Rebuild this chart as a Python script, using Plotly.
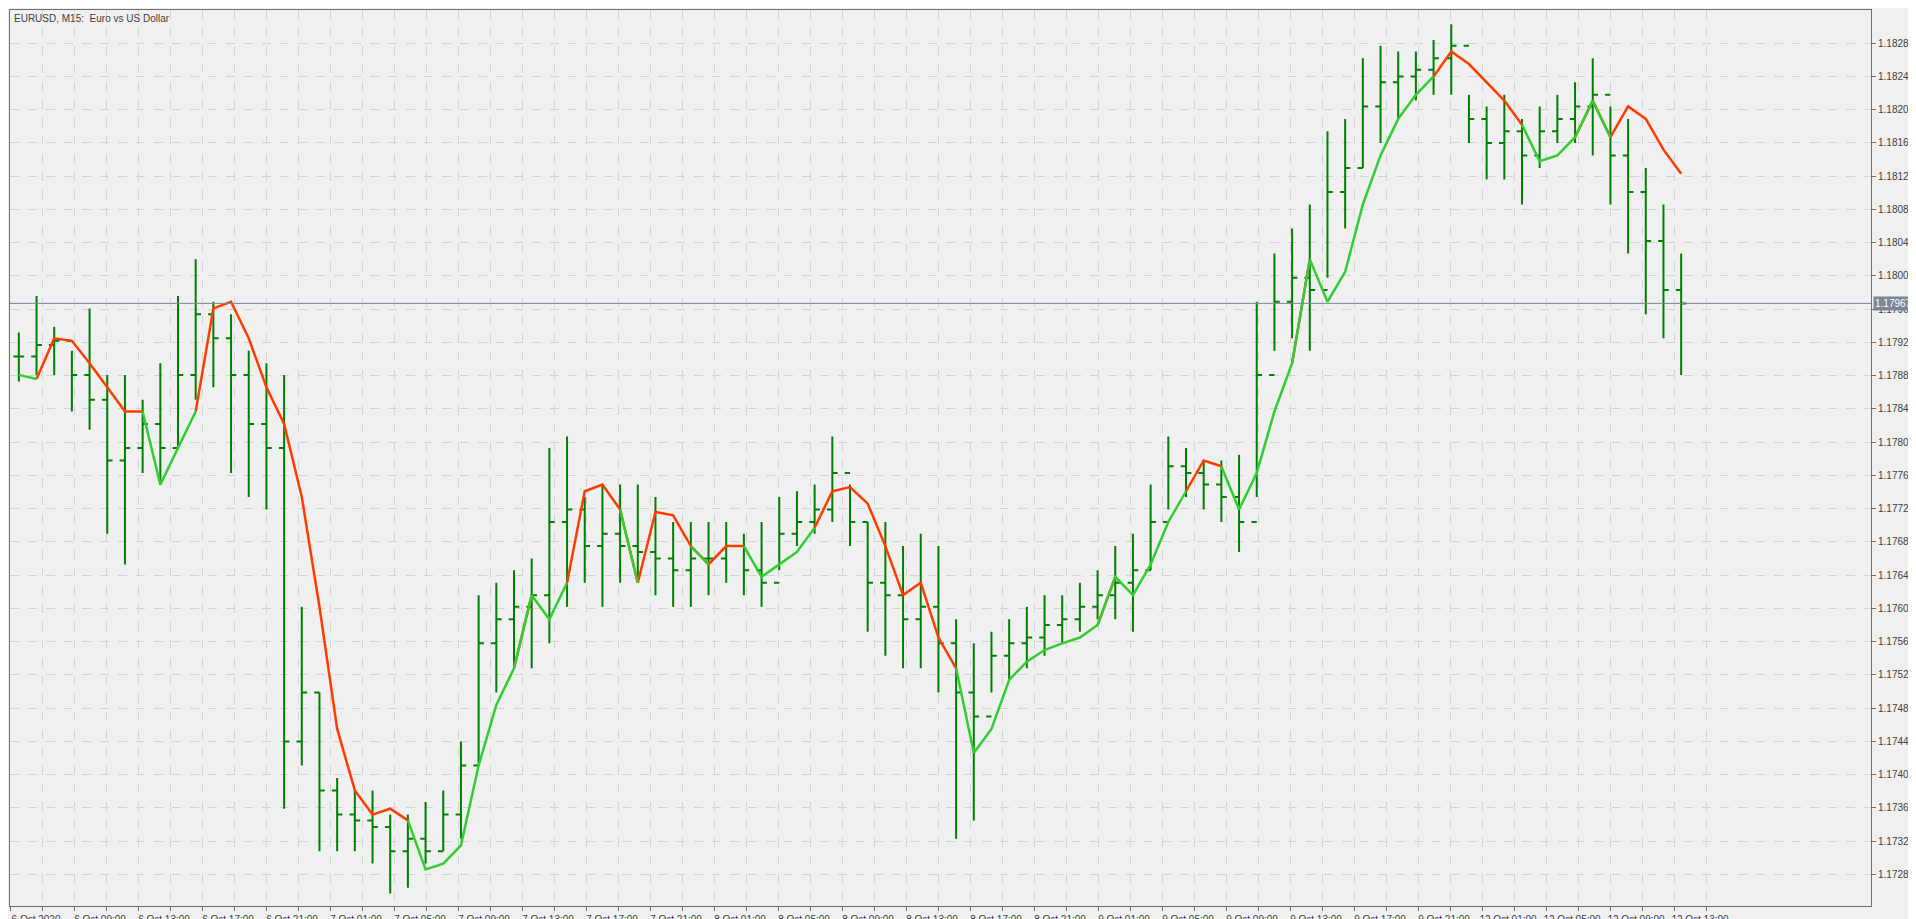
import plotly.graph_objects as go

# EURUSD M15, hourly sampled, prices in points (1e-5)
high_pts = [117932, 117976, 117939, 117910, 117961, 117881, 117881, 117851, 117895, 117976,
            118020, 117969, 117954, 117910, 117895, 117881, 117602, 117499, 117396, 117381,
            117381, 117352, 117352, 117367, 117381, 117440, 117616, 117631, 117646, 117660,
            117793, 117807, 117734, 117749, 117749, 117749, 117734, 117704, 117704, 117704,
            117704, 117690, 117704, 117734, 117741, 117749, 117807, 117749, 117704, 117704,
            117675, 117690, 117675, 117587, 117558, 117572, 117587, 117602, 117616, 117616,
            117631, 117646, 117675, 117690, 117749, 117807, 117793, 117778, 117778, 117785,
            117969, 118027, 118057, 118086, 118174, 118189, 118262, 118277, 118270, 118270,
            118284, 118303, 118218, 118204, 118218, 118189, 118204, 118218, 118233, 118262,
            118204, 118189, 118130, 118086, 118027]
low_pts = [117873, 117881, 117881, 117837, 117815, 117690, 117653, 117763, 117749, 117793,
           117851, 117866, 117763, 117734, 117719, 117359, 117411, 117308, 117308, 117308,
           117293, 117257, 117264, 117293, 117308, 117323, 117411, 117499, 117528, 117528,
           117558, 117602, 117631, 117602, 117631, 117631, 117616, 117602, 117602, 117616,
           117631, 117616, 117602, 117646, 117675, 117690, 117704, 117675, 117572, 117543,
           117528, 117528, 117499, 117323, 117345, 117499, 117514, 117528, 117543, 117558,
           117572, 117587, 117587, 117572, 117646, 117719, 117734, 117719, 117704, 117668,
           117734, 117910, 117925, 117910, 117998, 118057, 118130, 118160, 118189, 118211,
           118218, 118218, 118160, 118116, 118116, 118086, 118130, 118160, 118160, 118145,
           118086, 118027, 117954, 117925, 117881]
close_pts = [117903, 117917, 117922, 117881, 117851, 117778, 117793, 117822, 117793, 117881,
             117954, 117925, 117881, 117822, 117793, 117440, 117499, 117381, 117352, 117345,
             117337, 117308, 117323, 117308, 117352, 117411, 117558, 117587, 117602, 117616,
             117704, 117719, 117675, 117690, 117675, 117668, 117660, 117646, 117660, 117660,
             117675, 117646, 117631, 117690, 117704, 117719, 117763, 117704, 117631, 117616,
             117587, 117602, 117558, 117499, 117470, 117543, 117558, 117565, 117580, 117587,
             117602, 117616, 117631, 117646, 117704, 117771, 117763, 117749, 117734, 117704,
             117881, 117969, 117998, 117983, 118101, 118130, 118204, 118233, 118240, 118248,
             118262, 118277, 118189, 118160, 118174, 118145, 118174, 118189, 118204, 118218,
             118145, 118101, 118042, 117983, 117967]
trail_pts = [117881, 117876, 117925, 117922, 117895, 117866, 117837, 117837, 117749, 117793,
             117837, 117961, 117969, 117925, 117866, 117822, 117734, 117602, 117455, 117381,
             117352, 117359, 117345, 117286, 117293, 117315, 117411, 117484, 117528, 117616,
             117587, 117631, 117741, 117749, 117719, 117631, 117716, 117712, 117675, 117653,
             117675, 117675, 117638, 117653, 117668, 117697, 117741, 117746, 117726, 117675,
             117616, 117631, 117565, 117528, 117426, 117455, 117514, 117536, 117550, 117558,
             117565, 117580, 117638, 117616, 117653, 117704, 117741, 117778, 117771, 117719,
             117763, 117837, 117895, 118020, 117969, 118005, 118086, 118145, 118189, 118218,
             118240, 118270, 118255, 118233, 118211, 118182, 118138, 118145, 118167, 118211,
             118167, 118204, 118189, 118152, 118123]
trail_side = "GGRRRRRRGGGRRRRRRRRRRRRGGGGGGRGGRRRGRRRGRRGGGGRRRRRRRRGGGGGGGGRGGGGRRGGGGRGGGGGGGRRRRRGGGRGRRRR"

tick_labels = ["6 Oct 2020", "6 Oct 09:00", "6 Oct 13:00", "6 Oct 17:00", "6 Oct 21:00",
               "7 Oct 01:00", "7 Oct 05:00", "7 Oct 09:00", "7 Oct 13:00", "7 Oct 17:00",
               "7 Oct 21:00", "8 Oct 01:00", "8 Oct 05:00", "8 Oct 09:00", "8 Oct 13:00",
               "8 Oct 17:00", "8 Oct 21:00", "9 Oct 01:00", "9 Oct 05:00", "9 Oct 09:00",
               "9 Oct 13:00", "9 Oct 17:00", "9 Oct 21:00", "12 Oct 01:00", "12 Oct 05:00",
               "12 Oct 09:00", "12 Oct 13:00"]
last_price = 1.17967

n = len(close_pts)
x = list(range(n))
high = [v / 1e5 for v in high_pts]
low = [v / 1e5 for v in low_pts]
close = [v / 1e5 for v in close_pts]
opn = [close[0]] + close[:-1]
trail = [v / 1e5 for v in trail_pts]

red, green = [None] * n, [None] * n
for i in range(n):
    s = trail_side[i]
    nxt = trail_side[i + 1] if i + 1 < n else s
    if s == "R" or nxt == "R":
        red[i] = trail[i]
    if s == "G" or nxt == "G":
        green[i] = trail[i]

fig = go.Figure()
fig.add_trace(go.Ohlc(x=x, open=opn, high=high, low=low, close=close, tickwidth=0.3,
                      increasing=dict(line=dict(color="#008000", width=2)),
                      decreasing=dict(line=dict(color="#008000", width=2)),
                      showlegend=False, hoverinfo="skip"))
fig.add_trace(go.Scatter(x=x, y=red, mode="lines", line=dict(color="#ff3c00", width=2.5),
                         showlegend=False, connectgaps=False))
fig.add_trace(go.Scatter(x=x, y=green, mode="lines", line=dict(color="#32cd32", width=2.5),
                         showlegend=False, connectgaps=False))

# x scale: bar spacing in px, one label every 64 px
plot_w = 1916 - 2 - 53
bar_px = 1680 / n
step = 64 / bar_px
x0 = -0.5
tickvals, ticktext = [], []
for k, lab in enumerate(tick_labels):
    tickvals += [x0 + k * step, x0 + (k + 0.5) * step]
    ticktext += [lab, ""]

fig.add_hline(y=last_price, line=dict(color="#7a8797", width=1))
fig.add_annotation(x=1, xref="paper", xanchor="left", y=last_price, yref="y",
                   text="1.17967", showarrow=False, bgcolor="#7a8797",
                   font=dict(color="white", size=10, family="Liberation Sans"), borderpad=1, xshift=2)
fig.add_annotation(x=0, xref="paper", y=1, yref="paper", xanchor="left", yanchor="top",
                   text="EURUSD, M15:  Euro vs US Dollar", showarrow=False, xshift=2, yshift=-1,
                   font=dict(color="#404040", size=10, family="Liberation Sans"))

yticks = [1.17280 + 0.0004 * k for k in range(26)]
fig.update_layout(
    width=1916, height=919,
    margin=dict(l=2, r=53, t=2, b=21),
    paper_bgcolor="#f0f0f0", plot_bgcolor="#f0f0f0",
    font=dict(family="Liberation Sans", size=10, color="#404040"),
    xaxis=dict(range=[x0, x0 + plot_w / bar_px], tickvals=tickvals, ticktext=ticktext,
               tickangle=0, ticklabelshift=26, ticklabelstandoff=0,
               rangeslider=dict(visible=False), showgrid=True, gridcolor="#d4d4d4",
               griddash="dash", showline=True, linecolor="#6e6e6e", mirror=True,
               ticks="outside", ticklen=4, tickcolor="#6e6e6e", zeroline=False),
    yaxis=dict(range=[1.17242, 1.18320], side="right", tickvals=yticks, tickformat=".5f",
               showgrid=True, gridcolor="#d4d4d4", griddash="dash", showline=True,
               linecolor="#6e6e6e", mirror=True, ticks="outside", ticklen=4,
               tickcolor="#6e6e6e", zeroline=False),
)

fig.write_html("out.html")
